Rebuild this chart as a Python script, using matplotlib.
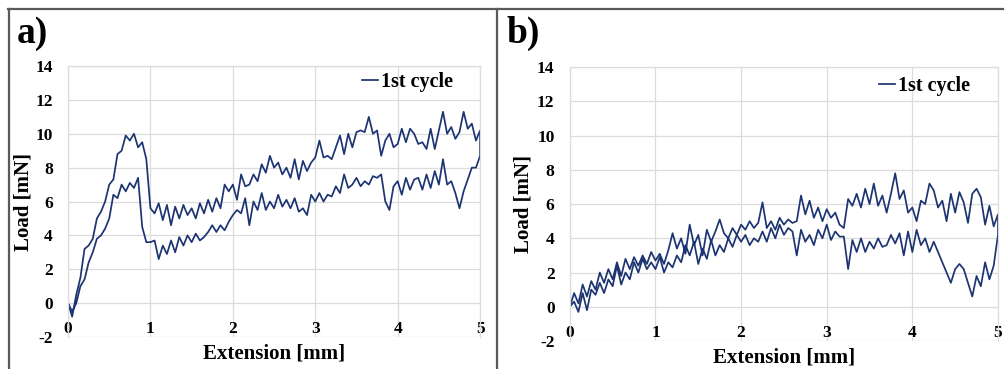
import numpy as np
import matplotlib.pyplot as plt
from matplotlib.lines import Line2D

# extension grid (mm) shared by every branch, 0.05 mm steps
ext = np.round(np.arange(0, 5.0001, 0.05), 2)

# panel a) loading branch, 0 -> 5 mm
a_load = [0.0, -0.8, 0.5, 1.5, 3.2, 3.4, 3.8, 5.0, 5.4, 6.0,
          7.0, 7.3, 8.8, 9.0, 9.9, 9.6, 10.0, 9.2, 9.5, 8.5,
          5.6, 5.3, 5.9, 4.9, 5.8, 4.6, 5.7, 5.0, 5.8, 5.2,
          5.6, 5.0, 5.9, 5.3, 6.1, 5.4, 6.2, 5.6, 7.0, 6.6,
          7.0, 6.1, 7.6, 6.9, 7.0, 7.6, 7.2, 8.2, 7.7, 8.7,
          8.0, 8.3, 7.6, 8.0, 7.4, 8.5, 7.3, 8.4, 7.8, 8.3,
          8.6, 9.6, 8.6, 8.7, 8.5, 9.2, 9.9, 8.8, 10.0, 9.2,
          10.1, 10.2, 10.1, 11.0, 10.0, 10.2, 8.7, 9.6, 10.0, 9.2,
          9.4, 10.3, 9.5, 10.3, 10.0, 9.4, 9.5, 9.1, 10.3, 9.1,
          10.2, 11.3, 10.0, 10.4, 9.7, 10.1, 11.3, 10.3, 10.6, 9.6,
          10.2]
# panel a) unloading branch, listed 0 -> 5 mm (drawn back from 5 to 0)
a_unload = [0.0, -0.5, 0.0, 1.0, 1.4, 2.4, 3.0, 3.8, 4.0, 4.4,
            5.0, 6.4, 6.2, 7.0, 6.6, 7.1, 6.8, 7.4, 4.5, 3.6,
            3.6, 3.7, 2.6, 3.4, 2.9, 3.7, 3.0, 3.9, 3.4, 4.0,
            3.6, 4.1, 3.7, 3.9, 4.2, 4.6, 4.2, 4.6, 4.3, 4.8,
            5.2, 5.5, 5.3, 6.2, 4.6, 6.0, 5.5, 6.5, 5.5, 6.0,
            5.6, 6.4, 5.7, 6.1, 5.6, 6.2, 5.4, 5.6, 5.2, 6.4,
            6.0, 6.5, 6.0, 6.4, 6.3, 6.9, 6.5, 7.6, 6.8, 7.0,
            7.4, 6.9, 7.2, 7.0, 7.5, 7.4, 7.6, 6.0, 5.5, 6.9,
            7.2, 6.4, 7.4, 6.7, 7.3, 7.4, 6.7, 7.6, 6.8, 7.8,
            7.0, 8.5, 7.0, 7.2, 6.5, 5.6, 6.6, 7.3, 8.0, 8.0,
            8.7]

# panel b) loading branch
b_load = [0.0, 0.8, 0.2, 1.3, 0.6, 1.5, 1.0, 2.0, 1.4, 2.2,
          1.6, 2.6, 1.8, 2.8, 2.2, 2.9, 2.4, 3.0, 2.5, 3.2,
          2.7, 3.1, 2.5, 3.3, 4.3, 3.4, 4.0, 3.1, 4.8, 3.6,
          4.2, 3.0, 4.5, 3.8, 4.4, 5.1, 4.3, 4.0, 4.6, 4.2,
          4.8, 4.5, 5.0, 4.6, 4.9, 6.1, 4.6, 5.0, 4.5, 5.2,
          4.8, 5.1, 4.9, 5.0, 6.5, 5.4, 6.2, 5.2, 5.8, 5.0,
          5.7, 5.2, 5.5, 4.8, 4.6, 6.3, 5.9, 6.6, 5.8, 6.9,
          6.0, 7.2, 5.9, 6.5, 5.5, 6.6, 7.8, 6.3, 6.8, 5.5,
          5.8, 5.0, 6.2, 6.0, 7.2, 6.8, 5.8, 6.2, 5.0, 6.6,
          5.5, 6.7, 6.1, 4.9, 6.6, 6.9, 6.4, 4.8, 5.9, 4.7,
          5.4]
# panel b) unloading branch
b_unload = [0.0, 0.3, -0.3, 0.8, -0.2, 1.0, 0.7, 1.4, 0.8, 1.6,
            1.2, 2.4, 1.3, 2.0, 1.6, 2.6, 2.0, 2.8, 2.2, 2.6,
            2.2, 2.9, 2.0, 2.6, 2.3, 3.0, 2.6, 3.6, 3.0, 3.8,
            2.5, 3.4, 2.8, 3.9, 3.0, 3.6, 3.2, 4.0, 3.5, 4.2,
            3.8, 4.2, 3.6, 4.0, 3.8, 4.4, 3.8, 4.6, 4.0, 4.8,
            4.2, 4.6, 4.4, 3.0, 4.5, 3.8, 4.2, 3.6, 4.5, 4.0,
            4.8, 3.9, 4.4, 4.1, 4.1, 2.2, 3.9, 3.2, 4.0, 3.2,
            3.8, 3.4, 4.0, 3.5, 3.6, 4.2, 3.7, 4.3, 3.0, 4.4,
            3.2, 4.5, 3.6, 4.0, 3.2, 3.8, 3.2, 2.6, 2.0, 1.4,
            2.2, 2.5, 2.2, 1.4, 0.6, 1.8, 1.2, 2.6, 1.6, 2.4,
            4.2]

line_col = '#1c3472'
grid_col = '#dcdcdc'
font = 'Liberation Serif'
plt.rcParams['font.family'] = font
plt.rcParams['font.weight'] = 'bold'
plt.rcParams['axes.unicode_minus'] = False  # plain hyphen like the original

fig = plt.figure(figsize=(10.05, 3.69), dpi=100)
ax_a = fig.add_axes([0.0677, 0.0867, 0.41, 0.7343])
ax_b = fig.add_axes([0.567, 0.0759, 0.426, 0.742])

panels = [(ax_a, a_load, a_unload, 0.94), (ax_b, b_load, b_unload, 0.93)]
for ax, up, down, leg_y in panels:
    # one closed loop: out along the loading branch, back along the other
    xs = np.concatenate([ext, ext[::-1]])
    ys = np.concatenate([up, down[::-1]])
    ax.plot(xs, ys, color=line_col, lw=1.25, label='1st cycle')
    ax.set_xlim(0, 5)
    ax.set_ylim(-2, 14)
    ax.set_xticks(range(0, 6))
    ax.set_yticks(range(-2, 15, 2))
    ax.grid(True, color=grid_col, lw=0.9)
    ax.set_axisbelow(True)
    for s in ax.spines.values():
        s.set_color(grid_col)
        s.set_linewidth(0.9)
    # Excel style: x labels hang under the zero line
    ax.spines['bottom'].set_position(('data', 0))
    ax.spines['bottom'].set_visible(False)
    ax.tick_params(length=0, labelsize=12.5)
    ax.tick_params(axis='x', pad=13)
    ax.tick_params(axis='y', pad=11)
    ax.set_xlabel('Extension [mm]', fontsize=15, fontweight='bold')
    ax.set_ylabel('Load [mN]', fontsize=15, fontweight='bold')
    ax.xaxis.set_label_coords(0.5, -0.025)
    ax.yaxis.set_label_coords(-0.085, 0.5)
    ax.legend(loc='center right', bbox_to_anchor=(0.935, leg_y), frameon=False,
              borderaxespad=0, borderpad=0, handlelength=0.8, handletextpad=0.15,
              prop={'family': font, 'weight': 'bold', 'size': 14.5})

fig.text(0.017, 0.91, 'a)', fontsize=27, fontweight='bold', va='center')
fig.text(0.504, 0.91, 'b)', fontsize=27, fontweight='bold', va='center')

# panel frame lines
frame = dict(color='#5a5a5a', lw=1.6, transform=fig.transFigure)
fig.add_artist(Line2D([0.008, 0.998], [0.9756, 0.9756], **frame))
fig.add_artist(Line2D([0.009, 0.009], [0.0, 0.9756], **frame))
fig.add_artist(Line2D([0.4945, 0.4945], [0.0, 0.9756], **frame))

fig.savefig('out.png', dpi=100)
